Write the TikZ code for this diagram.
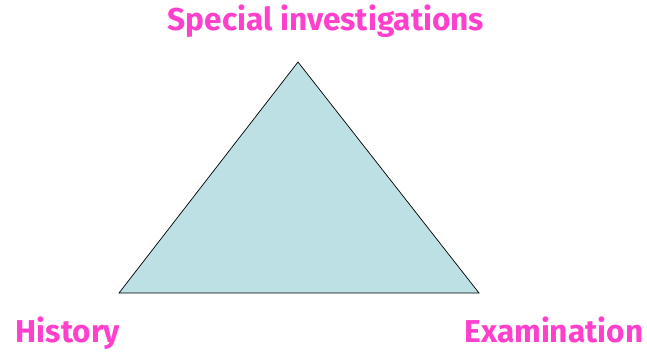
\documentclass[tikz,border=0pt]{standalone}
\usepackage{fontspec}
\setmainfont{Fira Sans}
\usepackage{tikz}
\usetikzlibrary{positioning, calc}
\definecolor{labelpink}{HTML}{FF40CC}
\definecolor{trifill}{HTML}{BCE0E3}
\tikzset{
  cornerlabel/.style={
    text=labelpink, font=\fontsize{27}{30}\selectfont\bfseries,
    inner sep=0pt, anchor=base
  },
  tri/.style={draw=black, fill=trifill, line width=0.6pt, line join=miter}
}

\begin{document}
\begin{tikzpicture}[x=0.03cm, y=-0.03cm]
\useasboundingbox (0,0) rectangle (647,354);

%% Corners
\coordinate (apex) at (298,62);
\coordinate (left) at (119,293);
\coordinate (right) at (479,293);

%% Triangle
\draw[tri] (apex) -- (left) -- (right) -- cycle;

%% Labels
\node[cornerlabel] (special) at (326,30) {Special investigations};
\node[cornerlabel] (history) at (68,342) {History};
\node[cornerlabel] (exam) at (554,342) {Examination};
\end{tikzpicture}
\end{document}
